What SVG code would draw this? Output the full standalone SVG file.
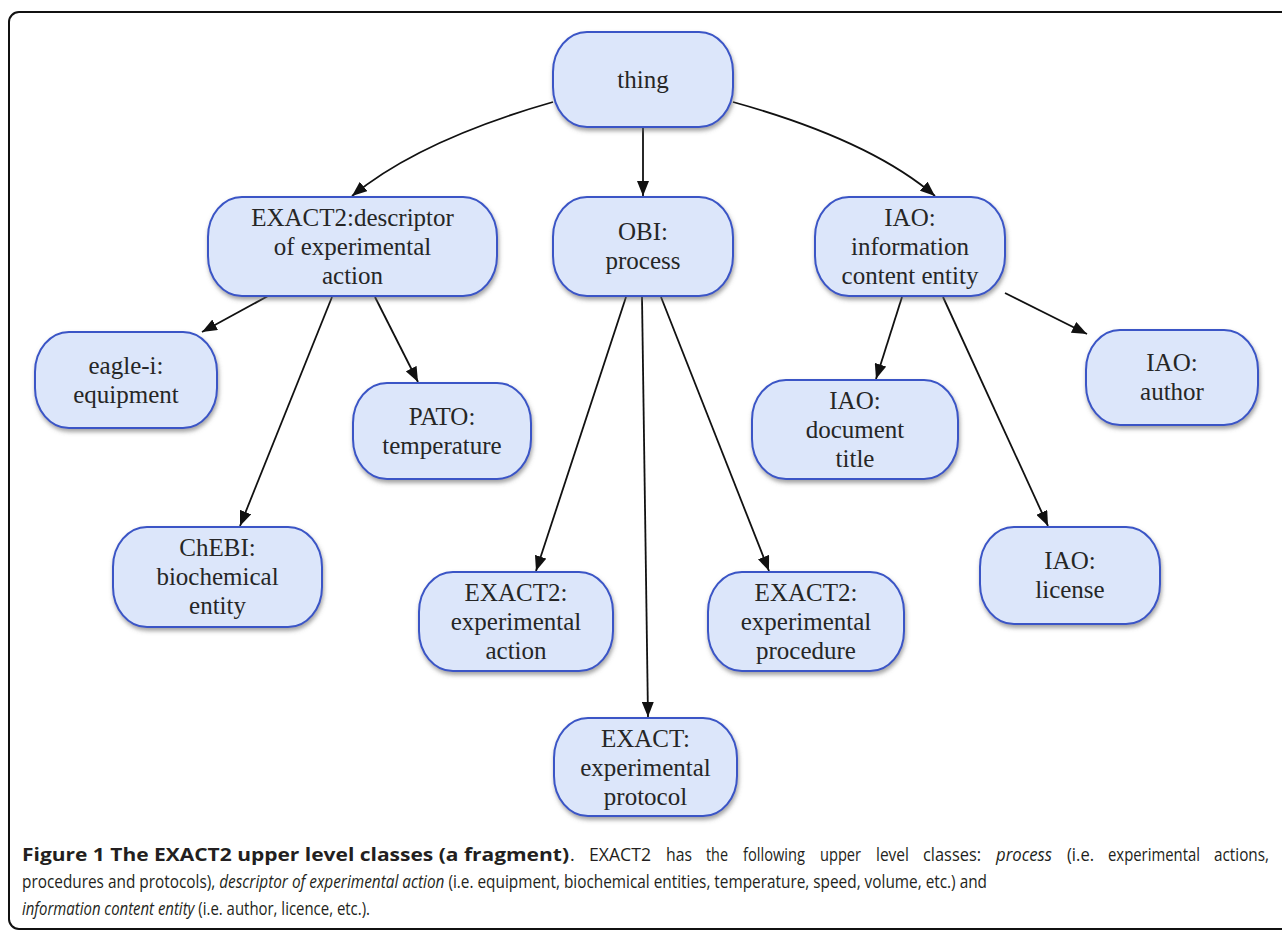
<svg xmlns="http://www.w3.org/2000/svg" width="1282" height="931" viewBox="0 0 1282 931">
<style>
.node rect{fill:#dce6fa;stroke:#3a55c6;stroke-width:2;filter:url(#sh)}
.node text{font-family:"Liberation Serif","Times New Roman",serif;font-size:25px;fill:#262626;text-anchor:middle}
.edge{fill:none;stroke:#111;stroke-width:1.8;marker-end:url(#ah)}
.cap{font-family:"Open Sans","Noto Sans",sans-serif;font-size:18px;fill:#231f20}
.b{font-weight:bold}
.i{font-style:italic}
</style>
<defs>
<filter id="sh" x="-10%" y="-10%" width="120%" height="130%">
<feDropShadow dx="1" dy="3" stdDeviation="2" flood-color="#666" flood-opacity="0.6"/>
</filter>
<marker id="ah" markerUnits="userSpaceOnUse" markerWidth="16" markerHeight="12" refX="15" refY="6" orient="auto">
<path d="M0,0 L15,6 L0,12 z" fill="#111"/>
</marker>
</defs>
<rect x="9" y="12" width="1300" height="917" rx="10" fill="#fff" stroke="#111" stroke-width="2"/>
<g id="connectors">
<path class="edge" d="M553,102 Q420,140 352,196"/>
<path class="edge" d="M643,127 L643,196"/>
<path class="edge" d="M733,102 Q870,140 935,196"/>
<path class="edge" d="M268,296 L202,332"/>
<path class="edge" d="M332,297 L240,526"/>
<path class="edge" d="M375,297 L418,382"/>
<path class="edge" d="M626,297 L536,571"/>
<path class="edge" d="M642,297 L648,717"/>
<path class="edge" d="M661,297 L769,571"/>
<path class="edge" d="M902,297 L876,379"/>
<path class="edge" d="M943,297 L1048,526"/>
<path class="edge" d="M1005,293 L1087,334"/>
</g>
<g id="thing" class="node"><rect x="553" y="32" width="180" height="95" rx="34" ry="40"/><text x="643" y="88">thing</text></g>
<g id="descriptor" class="node"><rect x="208" y="197" width="289" height="99" rx="34" ry="40"/><text x="352.5" y="226">EXACT2:descriptor</text><text x="352.5" y="255">of experimental</text><text x="352.5" y="284">action</text></g>
<g id="process" class="node"><rect x="553" y="197" width="180" height="99" rx="34" ry="40"/><text x="643" y="240">OBI:</text><text x="643" y="269">process</text></g>
<g id="ice" class="node"><rect x="815" y="197" width="190" height="99" rx="34" ry="40"/><text x="910" y="226">IAO:</text><text x="910" y="255">information</text><text x="910" y="284">content entity</text></g>
<g id="equipment" class="node"><rect x="35" y="332" width="182" height="96" rx="34" ry="40"/><text x="126" y="374">eagle-i:</text><text x="126" y="403">equipment</text></g>
<g id="temperature" class="node"><rect x="353" y="383" width="178" height="96" rx="34" ry="40"/><text x="442" y="425">PATO:</text><text x="442" y="454">temperature</text></g>
<g id="chebi" class="node"><rect x="113" y="527" width="209" height="100" rx="34" ry="40"/><text x="217.5" y="556">ChEBI:</text><text x="217.5" y="585">biochemical</text><text x="217.5" y="614">entity</text></g>
<g id="doctitle" class="node"><rect x="752" y="380" width="206" height="99" rx="34" ry="40"/><text x="855" y="409">IAO:</text><text x="855" y="438">document</text><text x="855" y="467">title</text></g>
<g id="author" class="node"><rect x="1086" y="330" width="172" height="95" rx="34" ry="40"/><text x="1172" y="371">IAO:</text><text x="1172" y="400">author</text></g>
<g id="license" class="node"><rect x="980" y="527" width="180" height="97" rx="34" ry="40"/><text x="1070" y="569">IAO:</text><text x="1070" y="598">license</text></g>
<g id="action" class="node"><rect x="419" y="572" width="194" height="99" rx="34" ry="40"/><text x="516" y="601">EXACT2:</text><text x="516" y="630">experimental</text><text x="516" y="659">action</text></g>
<g id="procedure" class="node"><rect x="708" y="572" width="196" height="99" rx="34" ry="40"/><text x="806" y="601">EXACT2:</text><text x="806" y="630">experimental</text><text x="806" y="659">procedure</text></g>
<g id="protocol" class="node"><rect x="554" y="718" width="183" height="98" rx="34" ry="40"/><text x="645.5" y="747">EXACT:</text><text x="645.5" y="776">experimental</text><text x="645.5" y="805">protocol</text></g>
<g id="caption" class="cap">
<text class="cap b" x="22" y="861" textLength="547" lengthAdjust="spacingAndGlyphs">Figure 1 The EXACT2 upper level classes (a fragment)</text>
<text class="cap" x="570" y="861">.</text>
<text class="cap" x="589" y="861" textLength="62" lengthAdjust="spacingAndGlyphs">EXACT2</text>
<text class="cap" x="666" y="861" textLength="26" lengthAdjust="spacingAndGlyphs">has</text>
<text class="cap" x="706" y="861" textLength="22" lengthAdjust="spacingAndGlyphs">the</text>
<text class="cap" x="743" y="861" textLength="62" lengthAdjust="spacingAndGlyphs">following</text>
<text class="cap" x="820" y="861" textLength="41" lengthAdjust="spacingAndGlyphs">upper</text>
<text class="cap" x="876" y="861" textLength="33" lengthAdjust="spacingAndGlyphs">level</text>
<text class="cap" x="923" y="861" textLength="58" lengthAdjust="spacingAndGlyphs">classes:</text>
<text class="cap i" x="996" y="861" textLength="56" lengthAdjust="spacingAndGlyphs">process</text>
<text class="cap" x="1067" y="861" textLength="27" lengthAdjust="spacingAndGlyphs">(i.e.</text>
<text class="cap" x="1108" y="861" textLength="92" lengthAdjust="spacingAndGlyphs">experimental</text>
<text class="cap" x="1214" y="861" textLength="55" lengthAdjust="spacingAndGlyphs">actions,</text>
<text class="cap" x="22" y="888" textLength="965" lengthAdjust="spacingAndGlyphs">procedures and protocols), <tspan class="i">descriptor of experimental action</tspan> (i.e. equipment, biochemical entities, temperature, speed, volume, etc.) and</text>
<text class="cap" x="22" y="915" textLength="348" lengthAdjust="spacingAndGlyphs"><tspan class="i">information content entity</tspan> (i.e. author, licence, etc.).</text>
</g>
</svg>
